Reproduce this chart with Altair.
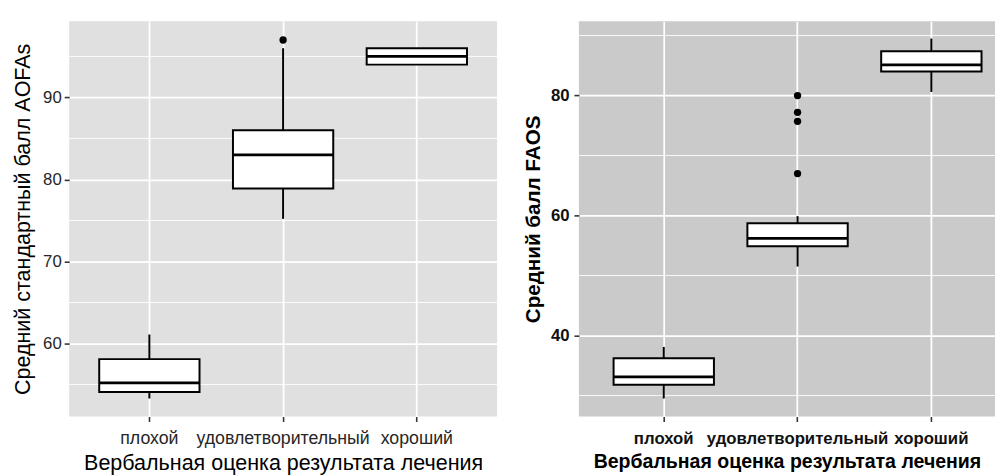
import altair as alt
import pandas as pd

# ---------------- data ----------------
categories = ["плохой", "удовлетворительный", "хороший"]

# Left panel: AOFAS
aofas_whisk_low = [53.3, 75.2, 94.0]
aofas_q1 = [54.1, 78.9, 94.0]
aofas_median = [55.2, 83.0, 95.0]
aofas_q3 = [58.1, 86.0, 96.0]
aofas_whisk_high = [61.1, 96.0, 96.0]
aofas_out_cat = ["удовлетворительный"]
aofas_out_val = [97.0]
aofas_ticks = [60, 70, 80, 90]
aofas_minor = [55, 65, 75, 85, 95]
aofas_domain = [51.1, 99.3]

# Right panel: FAOS
faos_whisk_low = [29.5, 51.5, 80.6]
faos_q1 = [31.8, 54.9, 84.0]
faos_median = [33.1, 56.2, 85.1]
faos_q3 = [36.2, 58.7, 87.4]
faos_whisk_high = [38.1, 59.9, 89.5]
faos_out_cat = ["удовлетворительный", "удовлетворительный", "удовлетворительный", "удовлетворительный"]
faos_out_val = [80.0, 77.2, 75.7, 67.0]
faos_ticks = [40, 60, 80]
faos_minor = [30, 50, 70, 90]
faos_domain = [26.5, 92.4]

x_title = "Вербальная оценка результата лечения"
FONT = "Liberation Sans"


def panel(lo, q1, med, q3, hi, out_cat, out_val, ticks, minor, domain,
          ytitle, bg, width, height, pad_outer, align, weight,
          tick_fs, xlab_fs, ytitle_fs, xtitle_fs, txt_color,
          y_title_pad, y_label_pad, x_label_pad, x_title_pad, title=None):
    box = pd.DataFrame({"cat": categories, "lo": lo, "q1": q1, "med": med,
                        "q3": q3, "hi": hi})
    out = pd.DataFrame({"cat": out_cat, "val": out_val})
    mn = pd.DataFrame({"v": minor})

    xscale = alt.Scale(domain=categories, paddingInner=0.25,
                       paddingOuter=pad_outer, align=align)
    xaxis = alt.Axis(title=x_title, labelAngle=0, bandPosition=0.5,
                     grid=True, gridColor="white", gridWidth=1.8,
                     domain=False, ticks=True, tickSize=5, tickWidth=1.6,
                     tickColor="#333333", labelFont=FONT, titleFont=FONT,
                     labelFontSize=xlab_fs, titleFontSize=xtitle_fs,
                     labelFontWeight=weight, titleFontWeight=weight,
                     labelColor=txt_color, titleColor="#000000",
                     labelLimit=0, labelPadding=x_label_pad,
                     titlePadding=x_title_pad)
    yscale = alt.Scale(domain=domain, nice=False, zero=False)
    yaxis = alt.Axis(title=ytitle, values=ticks, grid=True, gridColor="white",
                     gridWidth=1.8, domain=False, ticks=True, tickSize=5,
                     tickWidth=1.6, tickColor="#333333", labelFont=FONT,
                     titleFont=FONT, labelFontSize=tick_fs,
                     titleFontSize=ytitle_fs, labelFontWeight=weight,
                     titleFontWeight=weight, labelColor=txt_color,
                     titleColor="#000000", labelPadding=y_label_pad,
                     titlePadding=y_title_pad)

    X = alt.X("cat:N", scale=xscale, axis=xaxis)

    minor_l = alt.Chart(mn).mark_rule(color="white", strokeWidth=0.9).encode(
        y=alt.Y("v:Q", scale=yscale, axis=yaxis))
    whisk_lo = alt.Chart(box).mark_rule(color="black", strokeWidth=2).encode(
        x=X, y=alt.Y("lo:Q", scale=yscale, axis=yaxis), y2="q1:Q")
    whisk_hi = alt.Chart(box).mark_rule(color="black", strokeWidth=2).encode(
        x=X, y=alt.Y("q3:Q", scale=yscale, axis=yaxis), y2="hi:Q")
    rect = alt.Chart(box).mark_bar(fill="white", stroke="black",
                                   strokeWidth=2).encode(
        x=X, y=alt.Y("q1:Q", scale=yscale, axis=yaxis), y2="q3:Q")
    median = alt.Chart(box).mark_bar(fill="black", stroke="black",
                                     strokeWidth=2.8).encode(
        x=X, y=alt.Y("med:Q", scale=yscale, axis=yaxis), y2="med:Q")
    pts = alt.Chart(out).mark_circle(color="black", size=55, opacity=1).encode(
        x=X, y=alt.Y("val:Q", scale=yscale, axis=yaxis))

    props = dict(width=width, height=height,
                 view=alt.ViewBackground(fill=bg, stroke=None))
    if title is not None:
        props["title"] = title
    return alt.layer(minor_l, whisk_lo, whisk_hi, rect, median, pts).properties(**props)


left = panel(aofas_whisk_low, aofas_q1, aofas_median, aofas_q3, aofas_whisk_high,
             aofas_out_cat, aofas_out_val, aofas_ticks, aofas_minor, aofas_domain,
             "Средний стандартный балл AOFAs", "#E0E0E0", 434, 401, 0.225, 0.5,
             "normal", 17, 18, 21.8, 21.8, "#262626",
             y_title_pad=8, y_label_pad=3, x_label_pad=8, x_title_pad=6)

right = panel(faos_whisk_low, faos_q1, faos_median, faos_q3, faos_whisk_high,
              faos_out_cat, faos_out_val, faos_ticks, faos_minor, faos_domain,
              "Средний балл FAOS", "#CACACA", 422, 401, 0.18, 0.72,
              "bold", 17, 17, 20.9, 19.8, "#111111",
              y_title_pad=7, y_label_pad=5, x_label_pad=9, x_title_pad=6,
              title=alt.TitleParams(" ", fontSize=1, offset=9))

chart = alt.hconcat(left, right, spacing=25).properties(
    padding={"left": 5, "top": 0, "right": 0, "bottom": 0},
    background="white",
)

chart.save("out.html", embed_options={"renderer": "svg", "actions": False})
